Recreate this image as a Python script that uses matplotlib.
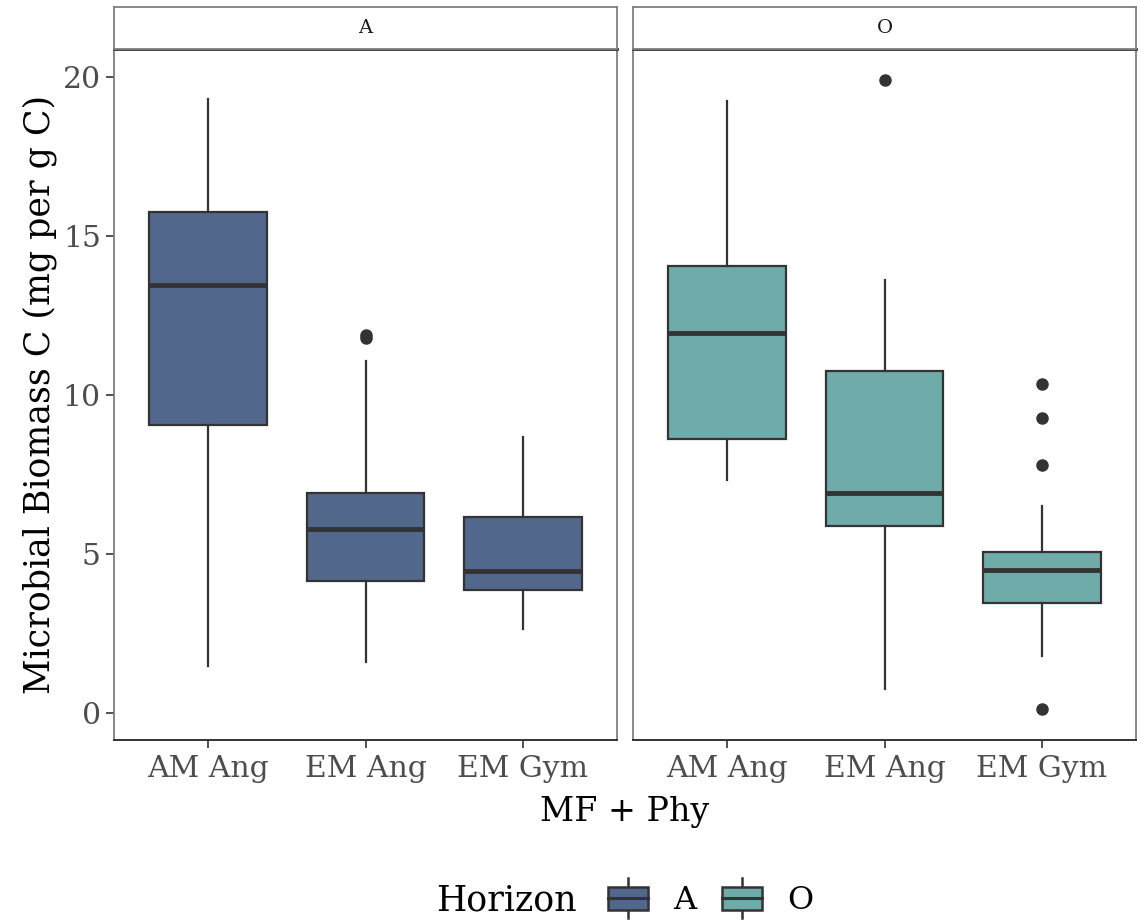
import numpy as np
import matplotlib
matplotlib.use("Agg")
import matplotlib.pyplot as plt
from matplotlib.legend_handler import HandlerBase
from matplotlib.patches import Rectangle
from matplotlib.lines import Line2D
from matplotlib.offsetbox import HPacker

plt.rcParams["font.family"] = ["DejaVu Serif"]

groups = ["AM Ang", "EM Ang", "EM Gym"]
horizons = ["A", "O"]
fills = {"A": "#52678C", "O": "#6EABA9"}

# five-number summaries per horizon: whislo, q1, median, q3, whishi
whislo = {"A": [1.48, 1.61, 2.62], "O": [7.32, 0.76, 1.77]}
q1 = {"A": [9.05, 4.16, 3.85], "O": [8.61, 5.87, 3.44]}
med = {"A": [13.45, 5.77, 4.45], "O": [11.96, 6.91, 4.48]}
q3 = {"A": [15.75, 6.91, 6.15], "O": [14.07, 10.76, 5.05]}
whishi = {"A": [19.31, 11.07, 8.68], "O": [19.24, 13.63, 6.50]}
fliers = {"A": [[], [11.80, 11.88], []],
          "O": [[], [19.90], [10.35, 9.27, 7.79, 0.13]]}

EDGE = "#333333"
TICK = "#4D4D4D"
BORDER = "#7F7F7F"

W, H = 1141, 922
fig = plt.figure(figsize=(W / 100, H / 100), dpi=100)


def rect(x0, x1, y0, y1):
    return [x0 / W, 1 - y1 / H, (x1 - x0) / W, (y1 - y0) / H]


panels = {"A": (114, 617), "O": (633, 1136)}
ytop, ybot, striptop = 49, 740, 7

for h in horizons:
    x0, x1 = panels[h]
    ax = fig.add_axes(rect(x0, x1, ytop, ybot))
    stats = []
    for i, g in enumerate(groups):
        stats.append(dict(med=med[h][i], q1=q1[h][i], q3=q3[h][i],
                          whislo=whislo[h][i], whishi=whishi[h][i],
                          fliers=fliers[h][i], label=g))
    ax.bxp(stats, positions=[1, 2, 3], widths=0.75, patch_artist=True,
           showcaps=False,
           boxprops=dict(facecolor=fills[h], edgecolor=EDGE, linewidth=1.6),
           whiskerprops=dict(color=EDGE, linewidth=1.6),
           medianprops=dict(color=EDGE, linewidth=3.5, solid_capstyle="butt"),
           flierprops=dict(marker="o", markerfacecolor=EDGE, markeredgecolor=EDGE,
                           markersize=8))
    ax.set_xlim(0.4, 3.6)
    ax.set_ylim(-0.86, 20.89)
    ax.set_yticks([0, 5, 10, 15, 20])
    ax.tick_params(axis="both", labelsize=21.5, color=EDGE, length=6, width=1.2,
                   labelcolor=TICK)
    ax.tick_params(axis="x", pad=5)
    ax.set_xticks([1, 2, 3])
    ax.set_xticklabels(groups)
    for s in ["left", "right"]:
        ax.spines[s].set_color(BORDER)
        ax.spines[s].set_linewidth(1.3)
    ax.spines["bottom"].set_color(EDGE)
    ax.spines["bottom"].set_linewidth(1.4)
    ax.spines["top"].set_color(EDGE)
    ax.spines["top"].set_linewidth(2.0)
    if h == "A":
        ax.set_ylabel("Microbial Biomass C (mg per g C)", fontsize=25, labelpad=4)
    else:
        ax.tick_params(axis="y", left=False, labelleft=False)

    # facet strip
    sax = fig.add_axes(rect(x0, x1, striptop, ytop))
    sax.set_xticks([])
    sax.set_yticks([])
    for s in sax.spines.values():
        s.set_color(BORDER)
        s.set_linewidth(1.3)
    sax.text(0.5, 0.5, h, ha="center", va="center", fontsize=14, color="#1A1A1A",
             transform=sax.transAxes)

fig.text((114 + 1136) / 2 / W, 1 - 812 / H, "MF + Phy", ha="center", va="center",
         fontsize=24)


class BoxKey(HandlerBase):
    def create_artists(self, legend, orig_handle, xdescent, ydescent, width,
                       height, fontsize, trans):
        fc = orig_handle.get_facecolor()
        bw, bh = width, height * 0.8
        bx, by = -xdescent, -ydescent + (height - bh) / 2
        box = Rectangle((bx, by), bw, bh, facecolor=fc, edgecolor=EDGE,
                        linewidth=1.8, transform=trans)
        cx = bx + bw / 2
        mid = Line2D([bx, bx + bw], [by + bh / 2] * 2, color=EDGE, lw=2.2,
                     transform=trans)
        up = Line2D([cx, cx], [by + bh, by + bh + height * 0.3], color=EDGE,
                    lw=1.8, transform=trans)
        dn = Line2D([cx, cx], [by, by - height * 0.3], color=EDGE, lw=1.8,
                    transform=trans)
        return [up, dn, box, mid]


handles = [Rectangle((0, 0), 1, 1, facecolor=fills[h]) for h in horizons]
leg = fig.legend(handles, horizons, handler_map={Rectangle: BoxKey()},
                 loc="center", bbox_to_anchor=(625 / W, 1 - 900 / H), ncol=3,
                 frameon=False, fontsize=23, title="Horizon", title_fontsize=25,
                 handlelength=1.25, handleheight=1.0, handletextpad=0.8,
                 columnspacing=0.8)
# put the title to the left of the keys
title_box = leg._legend_title_box
items = leg._legend_handle_box
leg._legend_box._children = [HPacker(pad=0, sep=22, children=[title_box, items],
                                     align="center")]

fig.savefig("out.png", dpi=100, facecolor="white")
